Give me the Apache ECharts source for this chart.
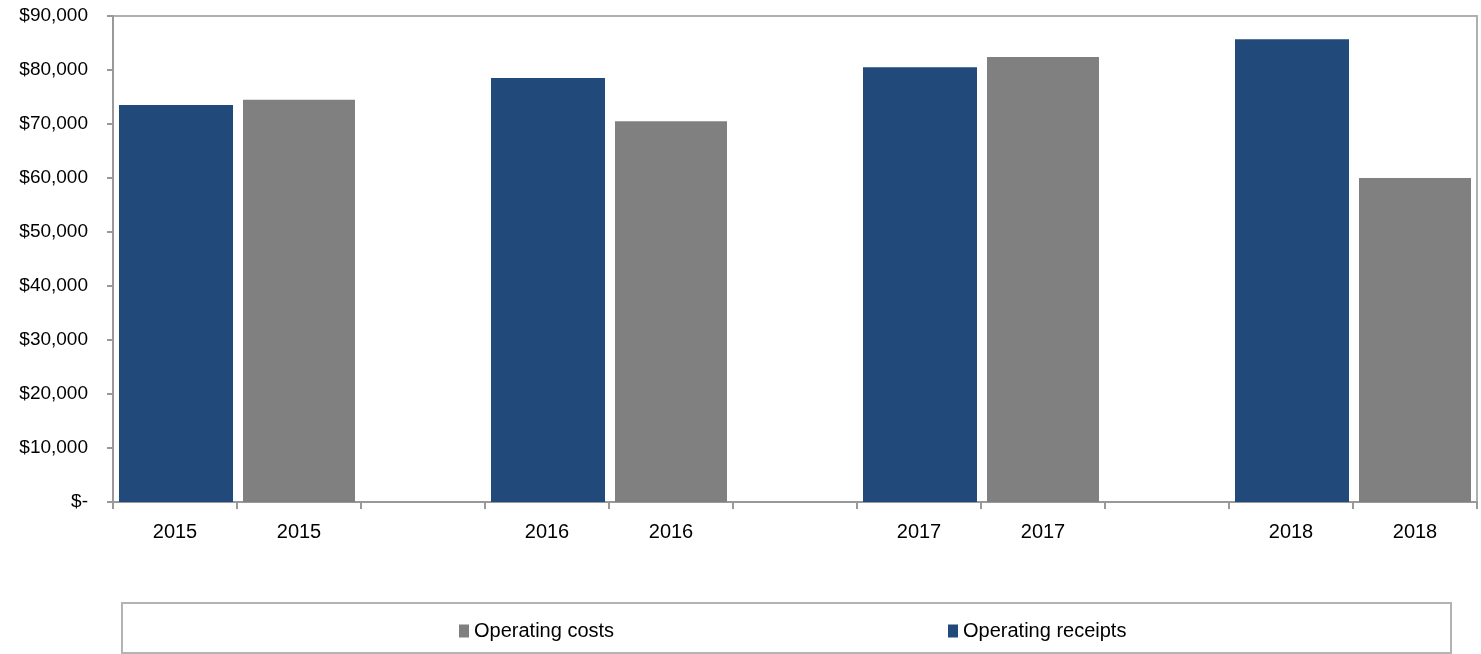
<!DOCTYPE html>
<html>
<head>
<meta charset="utf-8">
<script src="https://cdn.jsdelivr.net/npm/echarts@6/dist/echarts.min.js"></script>
<style>
  html, body { margin: 0; padding: 0; background: #fff; }
  #chart { width: 1481px; height: 654px; }
</style>
</head>
<body>
<div id="chart"></div>
<script>
// Categories (blank slots act as spacers between year groups)
var categories = ['2015', '2015', '', '2016', '2016', '', '2017', '2017', '', '2018', '2018'];
// Operating receipts (blue) – first bar of each year pair
var receipts = [73500, null, null, 78500, null, null, 80500, null, null, 85700, null];
// Operating costs (gray) – second bar of each year pair
var costs = [null, 74500, null, null, 70500, null, null, 82400, null, null, 60000];
// Y-axis tick values
var yTicks = [0, 10000, 20000, 30000, 40000, 50000, 60000, 70000, 80000, 90000];

var BLUE = '#214a7b';
var GRAY = '#808080';
var regular = '"Liberation Sans", Arial, sans-serif';

var chart = echarts.init(document.getElementById('chart'), null, { renderer: 'canvas' });

chart.setOption({
  animation: false,
  backgroundColor: '#ffffff',
  grid: {
    left: 113, right: 4, top: 16, bottom: 152,
    show: true, borderColor: '#b0b0b0', borderWidth: 2, backgroundColor: 'transparent'
  },
  graphic: [{
    type: 'rect',
    shape: { x: 122, y: 603, width: 1329, height: 50 },
    style: { fill: 'none', stroke: '#b3b3b3', lineWidth: 2 },
    z: 0
  }],
  legend: [{
    data: ['Operating costs'],
    left: 454, top: 616,
    icon: 'rect', itemWidth: 10, itemHeight: 13, itemGap: 5,
    textStyle: { fontFamily: regular, fontSize: 20, color: '#000' }
  }, {
    data: ['Operating receipts'],
    left: 943, top: 616,
    icon: 'rect', itemWidth: 10, itemHeight: 13, itemGap: 5,
    textStyle: { fontFamily: regular, fontSize: 20, color: '#000' }
  }],
  xAxis: {
    type: 'category',
    data: categories,
    axisLine: { show: true, lineStyle: { color: '#999999', width: 2 } },
    axisTick: { show: true, length: 7, lineStyle: { color: '#999999', width: 2 } },
    axisLabel: { fontFamily: regular, fontSize: 20, color: '#000', margin: 20, interval: 0 },
    splitLine: { show: false }
  },
  yAxis: {
    type: 'value',
    min: yTicks[0], max: yTicks[yTicks.length - 1], interval: 10000,
    axisLine: { show: true, lineStyle: { color: '#999999', width: 2 } },
    axisTick: { show: true, length: 6, lineStyle: { color: '#999999', width: 2 } },
    axisLabel: {
      fontFamily: regular, fontSize: 19, color: '#000', margin: 25,
      formatter: function (v) { return v === 0 ? '$-' : '$' + v.toLocaleString('en-US'); }
    },
    splitLine: { show: false }
  },
  series: [{
    name: 'Operating receipts',
    type: 'bar',
    data: receipts,
    barWidth: 114,
    barGap: '-100%',
    itemStyle: { color: BLUE }
  }, {
    name: 'Operating costs',
    type: 'bar',
    data: costs,
    barWidth: 112,
    barGap: '-100%',
    itemStyle: { color: GRAY }
  }]
});
</script>
</body>
</html>
